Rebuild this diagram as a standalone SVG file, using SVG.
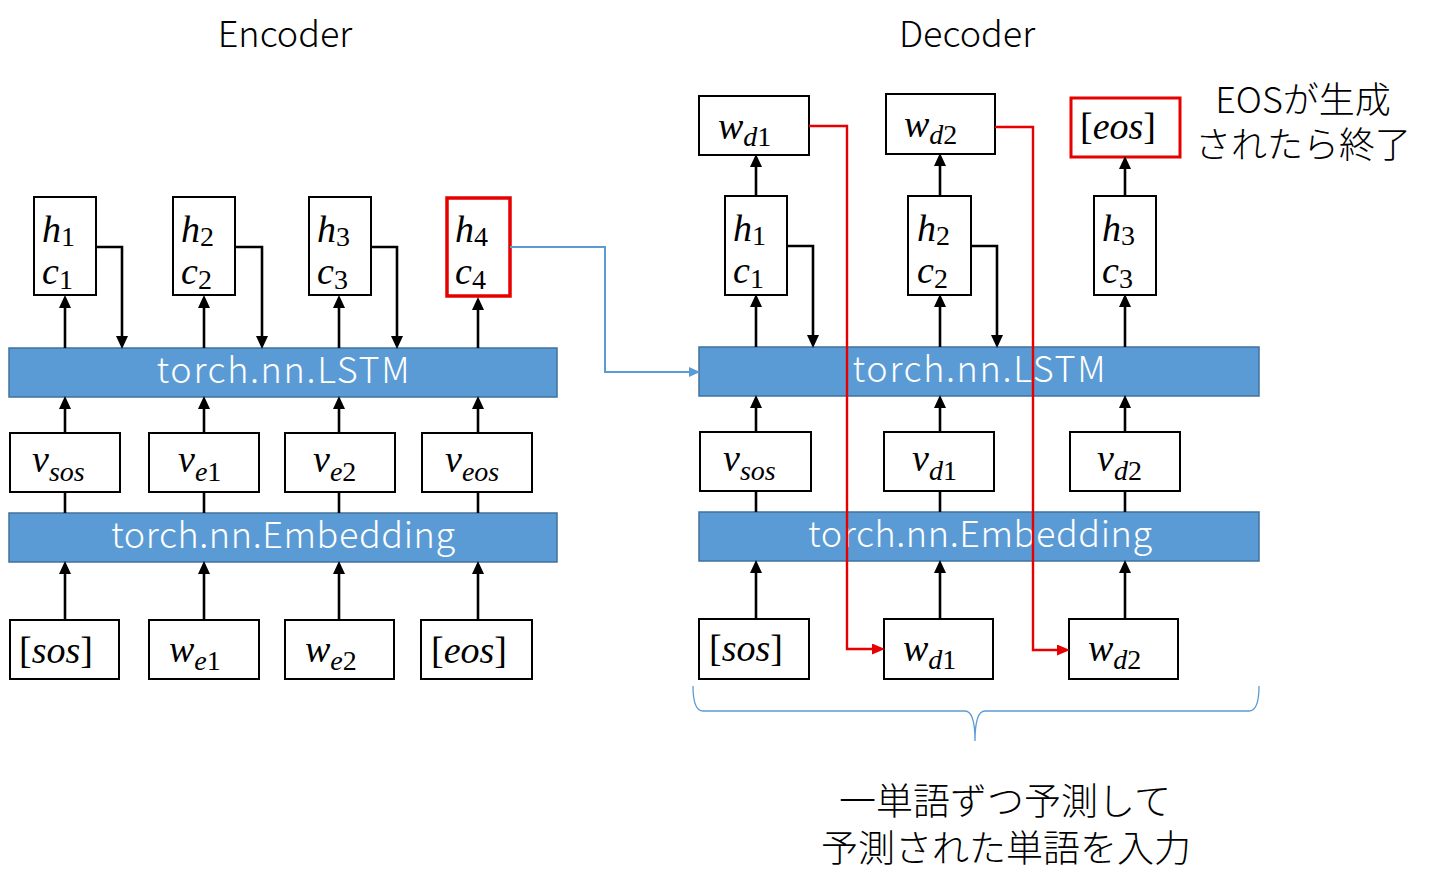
<svg xmlns="http://www.w3.org/2000/svg" width="1438" height="895" viewBox="0 0 1438 895">
<style>
.box{fill:#fff;stroke:#000;stroke-width:2}
.rbox{fill:#fff;stroke:#e60000;stroke-width:3.5}
.bar{fill:#5b9bd5;stroke:#41719c;stroke-width:1.5}
.bartxt{font-family:"Noto Sans CJK JP","Noto Sans",sans-serif;font-size:36px;fill:#fff;text-anchor:middle;font-weight:300}
.title{font-family:"Noto Sans CJK JP","Noto Sans",sans-serif;font-size:36px;fill:#000;text-anchor:middle;font-weight:300}
.jp{font-family:"Noto Sans CJK JP",sans-serif;font-size:36px;fill:#000;text-anchor:middle;font-weight:300}
.m{font-family:"Liberation Serif",serif;font-style:italic;font-size:38px;fill:#000}
.s{font-size:28px}
.n{font-style:normal}
.arr{stroke:#000;stroke-width:2.6;fill:none;marker-end:url(#ah)}
.ln{stroke:#000;stroke-width:2.6;fill:none}
.red{stroke:#e60000;stroke-width:2.4;fill:none;marker-end:url(#ahr)}
.blue{stroke:#5b9bd5;stroke-width:2;fill:none;marker-end:url(#ahb)}
</style>
<defs>
<marker id="ah" markerUnits="userSpaceOnUse" markerWidth="13" markerHeight="12" refX="6" refY="6" orient="auto"><path d="M0,0 L13,6 L0,12 z" fill="#000"/></marker>
<marker id="ahr" markerUnits="userSpaceOnUse" markerWidth="13" markerHeight="11" refX="6" refY="5.5" orient="auto"><path d="M0,0 L13,5.5 L0,11 z" fill="#e60000"/></marker>
<marker id="ahb" markerUnits="userSpaceOnUse" markerWidth="11" markerHeight="10" refX="5" refY="5" orient="auto"><path d="M0,0 L11,5 L0,10 z" fill="#5b9bd5"/></marker>
</defs>
<rect width="1438" height="895" fill="#fff"/>

<text class="title" x="285" y="47">Encoder</text>
<text class="title" x="967" y="47">Decoder</text>

<!-- Encoder bars -->
<g id="enc-lstm"><rect class="bar" x="9" y="348" width="548" height="49"/><text class="bartxt" x="283" y="383" textLength="253">torch.nn.LSTM</text></g>
<g id="enc-emb"><rect class="bar" x="9" y="513" width="548" height="49"/><text class="bartxt" x="283" y="548" textLength="344">torch.nn.Embedding</text></g>

<!-- Encoder hidden -->
<g id="enc-h1"><rect class="box" x="34" y="197" width="62" height="98"/><text class="m" x="42" y="242">h<tspan class="s n" dy="4">1</tspan></text><text class="m" x="42" y="284">c<tspan class="s n" dy="5">1</tspan></text></g>
<g id="enc-h2"><rect class="box" x="173" y="197" width="62" height="98"/><text class="m" x="181" y="242">h<tspan class="s n" dy="4">2</tspan></text><text class="m" x="181" y="284">c<tspan class="s n" dy="5">2</tspan></text></g>
<g id="enc-h3"><rect class="box" x="309" y="197" width="62" height="98"/><text class="m" x="317" y="242">h<tspan class="s n" dy="4">3</tspan></text><text class="m" x="317" y="284">c<tspan class="s n" dy="5">3</tspan></text></g>
<g id="enc-h4"><rect class="rbox" x="447" y="198" width="63" height="98"/><text class="m" x="455" y="242">h<tspan class="s n" dy="4">4</tspan></text><text class="m" x="455" y="284">c<tspan class="s n" dy="5">4</tspan></text></g>

<!-- Encoder v -->
<g id="enc-v1"><rect class="box" x="10" y="433" width="110" height="59"/><text class="m" x="32" y="472">v<tspan class="s" dy="9">sos</tspan></text></g>
<g id="enc-v2"><rect class="box" x="149" y="433" width="110" height="59"/><text class="m" x="178" y="472">v<tspan class="s" dy="9">e</tspan><tspan class="s n">1</tspan></text></g>
<g id="enc-v3"><rect class="box" x="285" y="433" width="110" height="59"/><text class="m" x="313" y="472">v<tspan class="s" dy="9">e</tspan><tspan class="s n">2</tspan></text></g>
<g id="enc-v4"><rect class="box" x="422" y="433" width="110" height="59"/><text class="m" x="445" y="472">v<tspan class="s" dy="9">eos</tspan></text></g>

<!-- Encoder inputs -->
<g id="enc-w1"><rect class="box" x="10" y="620" width="109" height="59"/><text class="m" x="19" y="663"><tspan class="n">[</tspan>sos<tspan class="n">]</tspan></text></g>
<g id="enc-w2"><rect class="box" x="149" y="620" width="110" height="59"/><text class="m" x="169" y="662">w<tspan class="s" dy="8">e</tspan><tspan class="s n">1</tspan></text></g>
<g id="enc-w3"><rect class="box" x="285" y="620" width="109" height="59"/><text class="m" x="305" y="662">w<tspan class="s" dy="8">e</tspan><tspan class="s n">2</tspan></text></g>
<g id="enc-w4"><rect class="box" x="421" y="620" width="111" height="59"/><text class="m" x="431" y="663"><tspan class="n">[</tspan>eos<tspan class="n">]</tspan></text></g>

<!-- Decoder bars -->
<g id="dec-lstm"><rect class="bar" x="699" y="347" width="560" height="49"/><text class="bartxt" x="979" y="382" textLength="253">torch.nn.LSTM</text></g>
<g id="dec-emb"><rect class="bar" x="699" y="512" width="560" height="49"/><text class="bartxt" x="980" y="547" textLength="344">torch.nn.Embedding</text></g>

<!-- Decoder outputs -->
<g id="dec-o1"><rect class="box" x="699" y="96" width="110" height="59"/><text class="m" x="718" y="139">w<tspan class="s" dy="7">d</tspan><tspan class="s n">1</tspan></text></g>
<g id="dec-o2"><rect class="box" x="886" y="94" width="109" height="60"/><text class="m" x="904" y="137">w<tspan class="s" dy="7">d</tspan><tspan class="s n">2</tspan></text></g>
<g id="dec-o3"><rect class="box" x="1071" y="98" width="109" height="59" style="stroke:#e60000;stroke-width:3"/><text class="m" x="1080" y="139"><tspan class="n">[</tspan>eos<tspan class="n">]</tspan></text></g>
<text class="jp" id="eos-note"><tspan x="1303" y="113">EOSが生成</tspan><tspan x="1303" y="158">されたら終了</tspan></text>

<!-- Decoder hidden -->
<g id="dec-h1"><rect class="box" x="725" y="196" width="62" height="99"/><text class="m" x="733" y="241">h<tspan class="s n" dy="4">1</tspan></text><text class="m" x="733" y="283">c<tspan class="s n" dy="5">1</tspan></text></g>
<g id="dec-h2"><rect class="box" x="908" y="196" width="63" height="99"/><text class="m" x="917" y="241">h<tspan class="s n" dy="4">2</tspan></text><text class="m" x="917" y="283">c<tspan class="s n" dy="5">2</tspan></text></g>
<g id="dec-h3"><rect class="box" x="1094" y="196" width="62" height="99"/><text class="m" x="1102" y="241">h<tspan class="s n" dy="4">3</tspan></text><text class="m" x="1102" y="283">c<tspan class="s n" dy="5">3</tspan></text></g>

<!-- Decoder v -->
<g id="dec-v1"><rect class="box" x="700" y="432" width="111" height="59"/><text class="m" x="723" y="471">v<tspan class="s" dy="9">sos</tspan></text></g>
<g id="dec-v2"><rect class="box" x="884" y="432" width="110" height="59"/><text class="m" x="912" y="471">v<tspan class="s" dy="9">d</tspan><tspan class="s n">1</tspan></text></g>
<g id="dec-v3"><rect class="box" x="1070" y="432" width="110" height="59"/><text class="m" x="1097" y="471">v<tspan class="s" dy="9">d</tspan><tspan class="s n">2</tspan></text></g>

<!-- Decoder inputs -->
<g id="dec-w1"><rect class="box" x="699" y="619" width="110" height="60"/><text class="m" x="709" y="661"><tspan class="n">[</tspan>sos<tspan class="n">]</tspan></text></g>
<g id="dec-w2"><rect class="box" x="884" y="619" width="109" height="60"/><text class="m" x="903" y="661">w<tspan class="s" dy="8">d</tspan><tspan class="s n">1</tspan></text></g>
<g id="dec-w3"><rect class="box" x="1069" y="619" width="109" height="60"/><text class="m" x="1088" y="661">w<tspan class="s" dy="8">d</tspan><tspan class="s n">2</tspan></text></g>

<!-- Bracket and note -->
<g id="brace"><path d="M693,686 Q693,711 703,711 L965,711 Q975,711 975,741 Q975,711 985,711 L1249,711 Q1259,711 1259,686" fill="none" stroke="#5b9bd5" stroke-width="1.3"/></g>
<text class="jp" id="brace-note" style="font-size:37px"><tspan x="1005" y="815">一単語ずつ予測して</tspan><tspan x="1006" y="862">予測された単語を入力</tspan></text>

<g id="connectors">
<!-- encoder -->
<line class="arr" x1="65" y1="620" x2="65" y2="568"/>
<line class="arr" x1="204" y1="620" x2="204" y2="568"/>
<line class="arr" x1="339" y1="620" x2="339" y2="568"/>
<line class="arr" x1="478" y1="620" x2="478" y2="568"/>
<line class="ln" x1="65" y1="513" x2="65" y2="492"/>
<line class="ln" x1="204" y1="513" x2="204" y2="492"/>
<line class="ln" x1="339" y1="513" x2="339" y2="492"/>
<line class="ln" x1="478" y1="513" x2="478" y2="492"/>
<line class="arr" x1="65" y1="433" x2="65" y2="403"/>
<line class="arr" x1="204" y1="433" x2="204" y2="403"/>
<line class="arr" x1="339" y1="433" x2="339" y2="403"/>
<line class="arr" x1="478" y1="433" x2="478" y2="403"/>
<line class="arr" x1="65" y1="348" x2="65" y2="302"/>
<line class="arr" x1="204" y1="348" x2="204" y2="302"/>
<line class="arr" x1="339" y1="348" x2="339" y2="302"/>
<line class="arr" x1="478" y1="348" x2="478" y2="304"/>
<polyline class="arr" points="96,247 122,247 122,342"/>
<polyline class="arr" points="235,247 262,247 262,342"/>
<polyline class="arr" points="371,247 397,247 397,342"/>
<polyline class="blue" points="510,247 605,247 605,372 694,372"/>
<!-- decoder -->
<line class="arr" x1="756" y1="619" x2="756" y2="567"/>
<line class="arr" x1="940" y1="619" x2="940" y2="567"/>
<line class="arr" x1="1125" y1="619" x2="1125" y2="567"/>
<line class="ln" x1="756" y1="512" x2="756" y2="491"/>
<line class="ln" x1="940" y1="512" x2="940" y2="491"/>
<line class="ln" x1="1125" y1="512" x2="1125" y2="491"/>
<line class="arr" x1="756" y1="432" x2="756" y2="402"/>
<line class="arr" x1="940" y1="432" x2="940" y2="402"/>
<line class="arr" x1="1125" y1="432" x2="1125" y2="402"/>
<line class="arr" x1="756" y1="347" x2="756" y2="301"/>
<line class="arr" x1="940" y1="347" x2="940" y2="301"/>
<line class="arr" x1="1125" y1="347" x2="1125" y2="301"/>
<line class="arr" x1="756" y1="196" x2="756" y2="161"/>
<line class="arr" x1="940" y1="196" x2="940" y2="160"/>
<line class="arr" x1="1125" y1="196" x2="1125" y2="163"/>
<polyline class="arr" points="787,246 813,246 813,341"/>
<polyline class="arr" points="971,246 997,246 997,341"/>
<polyline class="red" points="809,126 847,126 847,649 878,649"/>
<polyline class="red" points="995,127 1033,127 1033,650 1063,650"/>
</g>
</svg>
